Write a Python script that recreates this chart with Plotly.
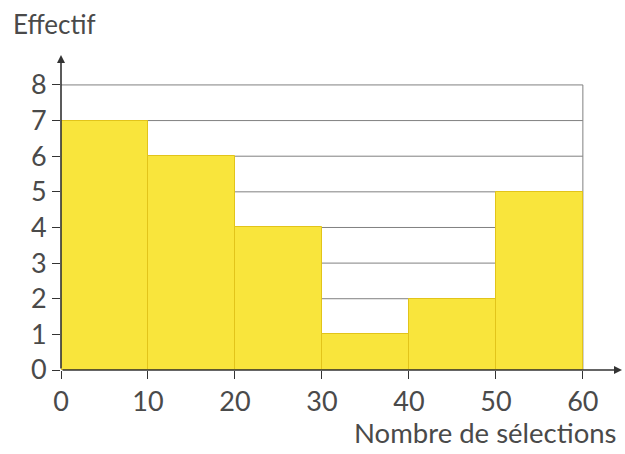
import plotly.graph_objects as go

# Data
bin_edges = [0, 10, 20, 30, 40, 50, 60]
counts = [7, 6, 4, 1, 2, 5]
x_ticks = [0, 10, 20, 30, 40, 50, 60]
y_ticks = [0, 1, 2, 3, 4, 5, 6, 7, 8]
x_title = "Nombre de sélections"
y_title = "Effectif"

centers = [(a + b) / 2 for a, b in zip(bin_edges[:-1], bin_edges[1:])]
widths = [b - a for a, b in zip(bin_edges[:-1], bin_edges[1:])]

FONT = "Lato"
TXT = "#4a4a4a"
AX = "#333333"

fig = go.Figure()
fig.add_trace(go.Bar(
    x=centers, y=counts, width=widths,
    marker=dict(color="#f9e53c", line=dict(color="#e2c41a", width=1)),
    hoverinfo="skip",
))

xmax = bin_edges[-1]
ymax_grid = y_ticks[-1]
shapes = []
for yv in y_ticks[1:]:
    shapes.append(dict(type="line", xref="x", yref="y", x0=bin_edges[0], x1=xmax,
                       y0=yv, y1=yv, line=dict(color="#808080", width=1), layer="below"))
shapes.append(dict(type="line", xref="x", yref="y", x0=xmax, x1=xmax, y0=0, y1=ymax_grid,
                   line=dict(color="#808080", width=1), layer="below"))

XR = [0, 64.5]
YR = [0, 8.84]

W, H = 625, 454
ML, MR, MT, MB = 61, 3, 55, 84
PW, PH = W - ML - MR, H - MT - MB

annotations = [
    dict(x=XR[1], y=0, ax=0, ay=0, xref="x", yref="y", axref="x", ayref="y",
         showarrow=True, arrowhead=2, arrowsize=1, arrowwidth=1.6, arrowcolor=AX, text=""),
    dict(x=0, y=YR[1], ax=0, ay=0, xref="x", yref="y", axref="x", ayref="y",
         showarrow=True, arrowhead=2, arrowsize=1, arrowwidth=1.6, arrowcolor=AX, text=""),
    dict(text=y_title, x=(11 - ML) / PW, y=(H - MB - 24) / PH, xref="paper", yref="paper",
         showarrow=False, font=dict(family=FONT, size=26, color=TXT),
         xanchor="left", yanchor="middle"),
    dict(text=x_title, x=(619 - ML) / PW, y=(H - MB - 432) / PH, xref="paper", yref="paper",
         showarrow=False, font=dict(family=FONT, size=27.5, color=TXT),
         xanchor="right", yanchor="middle"),
]

fig.update_layout(
    width=W, height=H,
    margin=dict(l=ML, r=MR, t=MT, b=MB, autoexpand=False),
    paper_bgcolor="white", plot_bgcolor="white",
    showlegend=False, bargap=0,
    shapes=shapes, annotations=annotations,
    xaxis=dict(range=XR, tickvals=x_ticks, ticks="outside", ticklen=8, tickcolor=AX,
               tickwidth=1.2, showgrid=False, zeroline=False, showline=False,
               automargin=False, fixedrange=True,
               tickfont=dict(family=FONT, size=27, color=TXT)),
    yaxis=dict(range=YR, tickvals=y_ticks, ticks="outside", ticklen=8, tickcolor=AX,
               tickwidth=1.2, showgrid=False, zeroline=False, showline=False,
               automargin=False, fixedrange=True,
               tickfont=dict(family=FONT, size=27, color=TXT)),
)

fig.write_html("out.html", config={"displayModeBar": False},
               post_script="document.body.style.margin='0';document.body.style.overflow='hidden';")
